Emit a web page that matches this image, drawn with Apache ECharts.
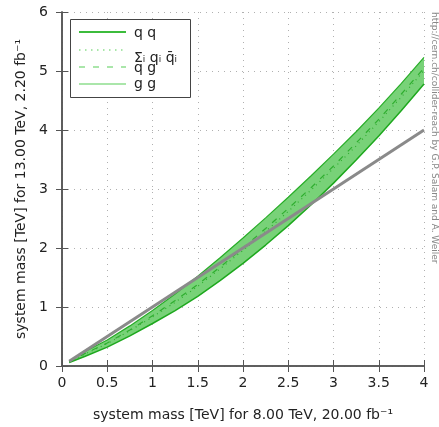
<!DOCTYPE html>
<html>
<head>
    <meta charset="utf-8">
    <title>collider reach</title>
    <script src="https://cdn.jsdelivr.net/npm/echarts@6/dist/echarts.min.js"></script>
    <style type="text/css">
        * { margin: 0; padding: 0; }
        body { background: #fff; }
        #main { width: 439px; height: 427px; }
    </style>
</head>
<body>
<div id="main"></div>
<script type="text/javascript">
    // system mass at 8 TeV (x) -> equivalent system mass at 13 TeV (y)
    var massX = [0.08, 0.25, 0.5, 0.75, 1, 1.25, 1.5, 1.75, 2, 2.25, 2.5, 2.75, 3, 3.25, 3.5, 3.75, 4];
    var ggY   = [0.08, 0.24, 0.44, 0.68, 0.94, 1.22, 1.52, 1.84, 2.17, 2.51, 2.86, 3.22, 3.59, 3.97, 4.37, 4.79, 5.23];
    var qgY   = [0.07, 0.21, 0.39, 0.61, 0.85, 1.11, 1.38, 1.68, 2.00, 2.33, 2.67, 3.02, 3.39, 3.78, 4.18, 4.61, 5.05];
    var qqbarY = [0.07, 0.20, 0.38, 0.60, 0.83, 1.08, 1.35, 1.65, 1.96, 2.28, 2.62, 2.98, 3.35, 3.73, 4.14, 4.56, 5.01];
    var qqY   = [0.06, 0.16, 0.32, 0.51, 0.72, 0.94, 1.18, 1.45, 1.74, 2.05, 2.38, 2.73, 3.10, 3.49, 3.90, 4.33, 4.78];
    // reference line: same mass
    var diagX = [0.08, 4];
    var diagY = [0.08, 4];

    function pairs(xs, ys) {
        var out = [];
        for (var i = 0; i < xs.length; i++) out.push([xs[i], ys[i]]);
        return out;
    }

    var font = 'DejaVu Sans';
    var axisCol = '#555';
    var gridLine = { show: true, lineStyle: { color: '#b0b0b0', type: [1, 5], width: 1 } };

    var myChart = echarts.init(document.getElementById('main'));

    // band between qq and gg, drawn once as a polygon through the axis scales
    function renderBand(params, api) {
        if (params.dataIndex !== 0) return;
        var pts = [];
        for (var i = 0; i < massX.length; i++) pts.push(api.coord([massX[i], ggY[i]]));
        for (var j = massX.length - 1; j >= 0; j--) pts.push(api.coord([massX[j], qqY[j]]));
        return {
            type: 'polygon',
            shape: { points: pts },
            style: { fill: '#78d278', stroke: null }
        };
    }

    var option = {
        animation: false,
        grid: { left: 62, right: 15, top: 12, bottom: 57 },
        xAxis: [{
            type: 'value', min: 0, max: 4, interval: 0.5,
            name: 'system mass [TeV] for 8.00 TeV, 20.00 fb⁻¹',
            nameLocation: 'middle', nameGap: 42,
            nameTextStyle: { fontFamily: font, fontSize: 14, color: '#222' },
            axisLine: { lineStyle: { color: axisCol, width: 1.5 } },
            axisTick: { inside: true, length: 6, lineStyle: { color: axisCol } },
            axisLabel: { fontFamily: font, fontSize: 14, color: '#222', margin: 10 },
            splitLine: gridLine
        }, {
            type: 'value', min: 0, max: 4, interval: 0.5, position: 'top',
            axisLine: { show: true, lineStyle: { color: axisCol, width: 1.5 } },
            axisTick: { show: true, inside: true, length: 6, lineStyle: { color: axisCol } },
            axisLabel: { show: false },
            splitLine: { show: false }
        }],
        yAxis: [{
            type: 'value', min: 0, max: 6, interval: 1,
            name: 'system mass [TeV] for 13.00 TeV, 2.20 fb⁻¹',
            nameLocation: 'middle', nameGap: 31,
            nameTextStyle: { fontFamily: font, fontSize: 14, color: '#222' },
            axisLine: { show: true, lineStyle: { color: axisCol, width: 1.5 } },
            axisTick: { show: true, inside: true, length: 6, lineStyle: { color: axisCol } },
            axisLabel: { fontFamily: font, fontSize: 14, color: '#222', margin: 14 },
            splitLine: gridLine
        }, {
            type: 'value', min: 0, max: 6, interval: 1, position: 'right',
            axisLine: { show: true, lineStyle: { color: axisCol, width: 1.5 } },
            axisTick: { show: true, inside: true, length: 6, lineStyle: { color: axisCol } },
            axisLabel: { show: false },
            splitLine: { show: false }
        }],
        series: [{
            name: 'band', type: 'custom', silent: true,
            renderItem: renderBand,
            encode: { x: 0, y: 1 },
            data: pairs(massX, ggY)
        }, {
            name: 'q q', type: 'line', symbol: 'none',
            lineStyle: { color: '#1ea81e', width: 1.5 },
            data: pairs(massX, qqY)
        }, {
            name: 'Σi qi q̄i', type: 'line', symbol: 'none',
            lineStyle: { color: '#2fae2f', width: 1.2, type: [1, 4] },
            data: pairs(massX, qqbarY)
        }, {
            name: 'q g', type: 'line', symbol: 'none',
            lineStyle: { color: '#2fae2f', width: 1.2, type: [6, 7] },
            data: pairs(massX, qgY)
        }, {
            name: 'g g', type: 'line', symbol: 'none',
            lineStyle: { color: '#28ad28', width: 1.2 },
            data: pairs(massX, ggY)
        }, {
            name: 'same', type: 'line', symbol: 'none',
            lineStyle: { color: '#8a8a8a', width: 3 },
            data: pairs(diagX, diagY)
        }],
        graphic: [
            // legend box
            { type: 'rect', shape: { x: 70.5, y: 19.5, width: 120, height: 78 },
              style: { fill: '#fff', stroke: '#444', lineWidth: 1 }, z: 100 },
            { type: 'line', shape: { x1: 79, y1: 32, x2: 126, y2: 32 },
              style: { stroke: '#3cbc3c', lineWidth: 1.8 }, z: 101 },
            { type: 'line', shape: { x1: 79, y1: 50, x2: 126, y2: 50 },
              style: { stroke: '#8ede8e', lineWidth: 1.5, lineDash: [1.5, 4.5] }, z: 101 },
            { type: 'line', shape: { x1: 79, y1: 67, x2: 126, y2: 67 },
              style: { stroke: '#8ede8e', lineWidth: 1.5, lineDash: [6, 8] }, z: 101 },
            { type: 'line', shape: { x1: 79, y1: 84, x2: 126, y2: 84 },
              style: { stroke: '#8ede8e', lineWidth: 1.5 }, z: 101 },
            { type: 'text', x: 134, y: 33, z: 101,
              style: { text: 'q q', font: '14px ' + font, fill: '#222', verticalAlign: 'middle' } },
            { type: 'text', x: 134, y: 58, z: 101,
              style: { text: 'Σᵢ qᵢ q̄ᵢ', font: '14px ' + font, fill: '#222', verticalAlign: 'middle' } },
            { type: 'text', x: 134, y: 68, z: 101,
              style: { text: 'q g', font: '14px ' + font, fill: '#222', verticalAlign: 'middle' } },
            { type: 'text', x: 134, y: 84, z: 101,
              style: { text: 'g g', font: '14px ' + font, fill: '#222', verticalAlign: 'middle' } },
            // credit along the right edge
            { type: 'text', x: 434, y: 12, rotation: -Math.PI / 2,
              style: { text: 'http://cern.ch/collider-reach by G.P. Salam and A. Weiler',
                       font: '9px ' + font, fill: '#888', align: 'left', verticalAlign: 'middle' } }
        ]
    };

    myChart.setOption(option);
</script>
</body>
</html>
